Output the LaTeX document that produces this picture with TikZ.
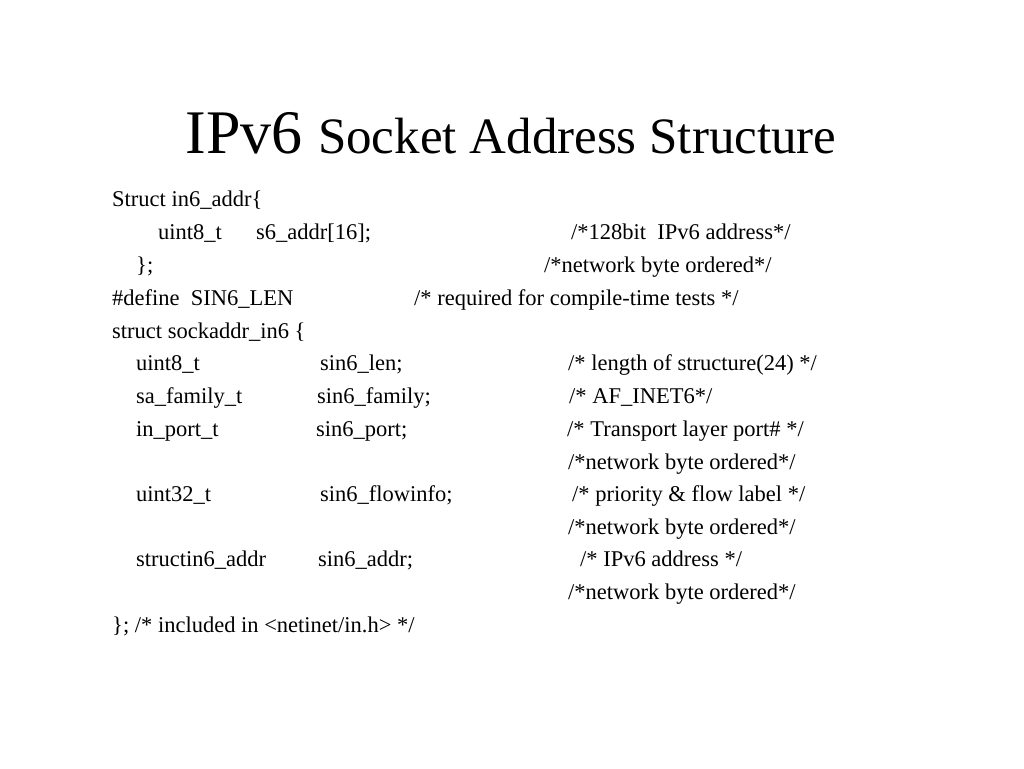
\documentclass[tikz,border=0pt]{standalone}
\usepackage{fontspec}
\setmainfont{Liberation Serif}
\begin{document}
\begin{tikzpicture}[x=1pt,y=-1pt,t/.style={anchor=base west,inner sep=0pt,font=\fontsize{22.5}{24}\selectfont}]
\useasboundingbox (0,0) rectangle (1024,768);
\node[anchor=base,inner sep=0pt] (title) at (511,153) {\fontsize{62}{66}\selectfont IPv6 \fontsize{51}{55}\selectfont Socket Address Structure};
\def\L#1#2#3{\node[t] at (#1,#2+7) {#3};}
\L{112}{199}{Struct in6\_addr\{}
\L{158}{232}{uint8\_t}\L{256}{232}{s6\_addr[16];}\L{571}{232}{/*128bit\ \ IPv6 address*/}
\L{136}{265}{\};}\L{544}{265}{/*network byte ordered*/}
\L{112}{298}{\#define\ \ SIN6\_LEN}\L{414}{298}{/* required for compile-time tests */}
\L{112}{331}{struct sockaddr\_in6 \{}
\L{136}{363}{uint8\_t}\L{320}{363}{sin6\_len;}\L{568}{363}{/* length of structure(24) */}
\L{136}{396}{sa\_family\_t}\L{317}{396}{sin6\_family;}\L{569}{396}{/* AF\_INET6*/}
\L{136}{429}{in\_port\_t}\L{316}{429}{sin6\_port;}\L{567}{429}{/* Transport layer port\# */}
\L{568}{462}{/*network byte ordered*/}
\L{136}{494}{uint32\_t}\L{320}{494}{sin6\_flowinfo;}\L{572}{494}{/* priority \& flow label */}
\L{568}{527}{/*network byte ordered*/}
\L{136}{559}{struct}\L{186}{559}{in6\_addr}\L{318}{559}{sin6\_addr;}\L{580}{559}{/* IPv6 address */}
\L{568}{592}{/*network byte ordered*/}
\L{112}{625}{\}; /* included in <netinet/in.h> */}
\end{tikzpicture}
\end{document}
